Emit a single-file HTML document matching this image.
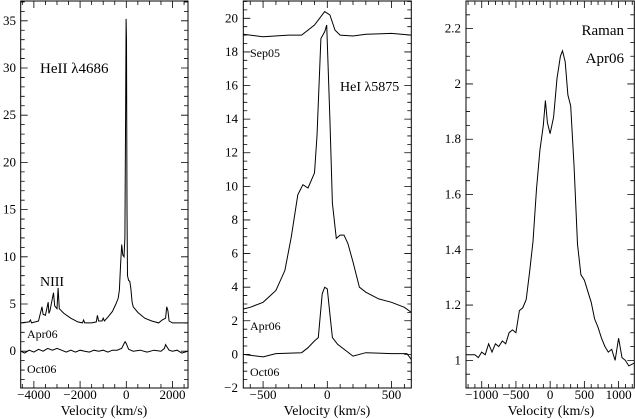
<!DOCTYPE html>
<html><head><meta charset="utf-8"><style>
body{margin:0;background:#fff}
svg{display:block}
svg text{font-family:"Liberation Serif","DejaVu Serif",serif;fill:#000}
</style></head><body>
<svg id="c" width="635" height="419"></svg>
<script>
const p1ApiV=[-4570,-4200,-4150,-4100,-3800,-3650,-3600,-3500,-3380,-3350,-3300,-3150,-3100,-3000,-2950,-2900,-2700,-2400,-2100,-1900,-1850,-1800,-1500,-1300,-1250,-1200,-1050,-1000,-950,-800,-600,-450,-350,-300,-250,-200,-150,-100,-60,-30,-10,10,30,50,100,150,200,250,300,500,800,1100,1400,1550,1700,1750,1800,1850,2000,2670];
const p1AprF=[3.0,3.1,3.3,3.0,3.2,4.7,3.9,3.8,5.2,4.0,4.3,6.2,4.8,4.5,6.7,4.5,4.0,3.5,3.1,3.0,3.3,3.0,3.0,3.1,3.8,3.2,3.2,3.5,3.2,3.6,4.2,5.0,5.6,6.5,9.0,11.3,10.2,10.0,12,25,35.2,33,15,8,7.5,7.4,6.6,5.2,4.7,4.1,3.5,3.2,3.0,3.3,3.5,4.7,4.3,3.2,3.0,3.0];
const p1OctV=[-4570,-4400,-4200,-4000,-3800,-3600,-3400,-3200,-3000,-2800,-2600,-2400,-2200,-2000,-1800,-1600,-1400,-1200,-1000,-800,-600,-400,-200,-100,-50,0,100,300,600,900,1200,1500,1650,1700,1750,1850,2000,2200,2400,2670];
const p1OctF=[0,-0.2,0.1,-0.1,0.2,0,0.3,0.1,0.3,0.1,-0.1,0.1,-0.1,0.1,0,-0.1,0.1,0,0.1,-0.1,0.1,0.1,0.3,0.8,1.0,0.8,0.2,0,0.1,-0.1,0.1,0,0.3,0.7,0.5,0.1,0,0.1,-0.2,0];
const p2SepV=[-654,-500,-300,-200,-100,-50,-20,20,60,100,200,300,500,654];
const p2SepF=[19.05,18.9,19.0,19.0,19.6,20.1,20.4,20.2,19.3,19.0,18.95,19.05,19.1,19.0];
const p2AprV=[-654,-600,-500,-400,-330,-280,-230,-190,-150,-100,-80,-50,-20,-5,20,40,70,100,130,160,200,250,300,400,500,600,654];
const p2AprF=[2.7,2.8,3.1,3.8,5,7,9.5,10.1,9.9,10.8,13,18.8,19.2,19.6,14,9,6.9,7.1,7.1,6.6,5.5,4.0,3.7,3.3,3.1,2.8,2.5];
const p2OctV=[-654,-500,-400,-200,-150,-100,-70,-40,-20,0,20,40,80,200,300,500,620,654];
const p2OctF=[0.0,-0.15,0.05,0.1,0.4,0.8,1.0,3.6,4.0,3.9,2.4,1.0,0.6,-0.1,0.1,0.05,0.05,-0.3];
const p3V=[-1230,-1100,-1050,-1000,-950,-900,-850,-800,-750,-700,-650,-600,-550,-500,-450,-400,-350,-300,-250,-200,-150,-100,-70,-40,0,50,100,150,180,220,260,300,350,400,450,500,550,600,650,700,750,800,850,900,950,1000,1050,1100,1150,1230];
const p3F=[1.02,1.02,1.01,1.03,1.02,1.06,1.03,1.06,1.05,1.07,1.06,1.10,1.11,1.10,1.18,1.19,1.22,1.32,1.43,1.62,1.76,1.85,1.94,1.86,1.82,1.88,2.02,2.10,2.12,2.08,1.96,1.92,1.70,1.42,1.31,1.29,1.25,1.21,1.15,1.12,1.08,1.05,1.03,1.04,1.00,1.08,1.01,1.00,0.98,0.99];
const p1YTicks=[0,5,10,15,20,25,30,35];
const p1XTicks=[-4000,-2000,0,2000];
const p2YTicks=[-2,0,2,4,6,8,10,12,14,16,18,20];
const p2XTicks=[-500,0,500];
const p3YTicks=[1,1.2,1.4,1.6,1.8,2,2.2];
const p3XTicks=[-1000,-500,0,500,1000];

const svg=document.getElementById('c');const NS='http://www.w3.org/2000/svg';
function mk(t,a){const e=document.createElementNS(NS,t);for(const k in a)e.setAttribute(k,a[k]);svg.appendChild(e);return e;}
function txt(x,y,s,anchor,size,name){const e=mk('text',{x:x,y:y,'text-anchor':anchor,'font-size':size,'font-family':'Liberation Serif, serif'});e.textContent=s;

return e;}
function panel(id,L,R,T,B,x0,x1,y0,y1,xt,xminor,yt,yminor){
 const sx=v=>L+(v-x0)/(x1-x0)*(R-L), sy=v=>B-(v-y0)/(y1-y0)*(B-T);
 const f=mk('rect',{x:L,y:T,width:R-L,height:B-T,fill:'none',stroke:'#000','stroke-width':1});
 
 
 let d='';
 for(let v=Math.ceil(x0/xminor)*xminor;v<=x1;v+=xminor){const x=sx(v);const maj=Math.abs(v/xt-Math.round(v/xt))<1e-6;const l=maj?7:4;d+=`M${x},${B}v${-l}M${x},${T}v${l}`;}
 for(let v=Math.ceil(y0/yminor-1e-9)*yminor;v<=y1+1e-9;v+=yminor){const y=sy(v);const maj=Math.abs(v/yt-Math.round(v/yt))<1e-6;const l=maj?7:4;d+=`M${L},${y}h${l}M${R},${y}h${-l}`;}
 const tk=mk('path',{d:d,stroke:'#000','stroke-width':0.8,fill:'none'});
 
 
 return {sx,sy};
}
function line(ax,V,F,name){let d='';V.forEach((v,i)=>{d+=(i?'L':'M')+ax.sx(v).toFixed(1)+','+ax.sy(F[i]).toFixed(1);});
 const e=mk('path',{d:d,fill:'none',stroke:'#000','stroke-width':1});
 
 }
// Panel 1
const a1=panel('heii-panel',20.7,188,1,388,-4570,2670,-3.9,37.1,2000,500,5,1);
p1YTicks.forEach(v=>txt(16,a1.sy(v)+4,String(v),'end',13,'y-tick-label'));
p1XTicks.forEach(v=>txt(a1.sx(v),399,String(v).replace('-','\u2212'),'middle',13,'x-tick-label'));
txt(104,415,'Velocity (km/s)','middle',14,'x-axis-title');
line(a1,p1ApiV,p1AprF,'heii-apr06-line');line(a1,p1OctV,p1OctF,'heii-oct06-line');
txt(40,73,'HeII  \u03bb4686','start',15,'heii-label');txt(40,286,'NIII','start',14,'niii-label');
txt(27,338,'Apr06','start',12,'apr06-label');txt(27,373,'Oct06','start',12,'oct06-label');
// Panel 2
const a2=panel('hei-panel',243.3,411.3,1,388,-654,654,-2,21.03,500,100,2,0.5);
p2YTicks.forEach(v=>txt(238,a2.sy(v)+4,String(v).replace('-','\u2212'),'end',13,'y-tick-label'));
p2XTicks.forEach(v=>txt(a2.sx(v),399,String(v).replace('-','\u2212'),'middle',13,'x-tick-label'));
txt(327,415,'Velocity (km/s)','middle',14,'x-axis-title');
line(a2,p2SepV,p2SepF,'hei-sep05-line');line(a2,p2AprV,p2AprF,'hei-apr06-line');line(a2,p2OctV,p2OctF,'hei-oct06-line');
txt(250,57,'Sep05','start',12,'sep05-label');txt(340,91,'HeI \u03bb5875','start',14,'hei-label');
txt(250,330,'Apr06','start',12,'apr06-label');txt(250,376,'Oct06','start',12,'oct06-label');
// Panel 3
const a3=panel('raman-panel',466,634.3,1,388,-1230,1230,0.9,2.30,500,100,0.2,0.05);
p3YTicks.forEach(v=>txt(461,a3.sy(v)+4,String(v),'end',13,'y-tick-label'));
p3XTicks.forEach(v=>txt(a3.sx(v),399,String(v).replace('-','\u2212'),'middle',13,'x-tick-label'));
txt(551,415,'Velocity (km/s)','middle',14,'x-axis-title');
line(a3,p3V,p3F,'raman-apr06-line');
txt(624,35,'Raman','end',15,'raman-label');txt(624,63,'Apr06','end',15,'raman-apr06-label');
</script>
</body></html>
